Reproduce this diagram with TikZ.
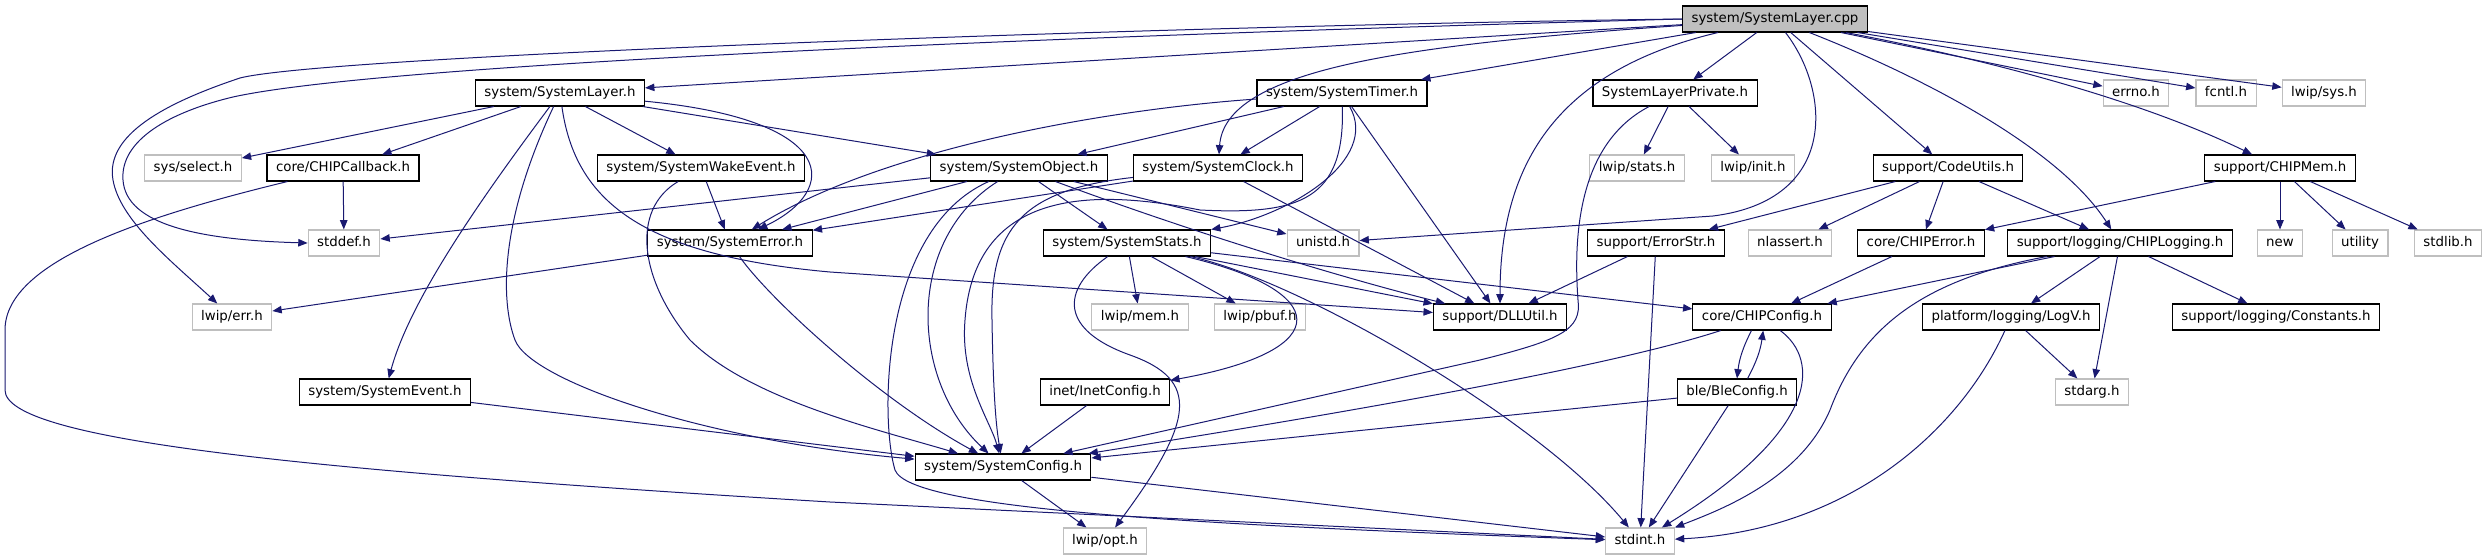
\documentclass[tikz,border=0pt]{standalone}
\usepackage{fontspec}
\setmainfont{DejaVu Sans}
\usetikzlibrary{arrows.meta}
\definecolor{edgeblue}{HTML}{191970}
\definecolor{extgray}{HTML}{BFBFBF}
\begin{document}
\begin{tikzpicture}[x=0.75pt,y=-0.75pt,>={Triangle[length=7pt,width=5.6pt]},
  hdr/.style={draw=black,fill=white,line width=0.8pt,font=\fontsize{10pt}{12pt}\selectfont,
    inner xsep=6.75pt,inner ysep=0pt,minimum height=19.5pt,text height=7.5pt,text depth=2.2pt},
  ext/.style={hdr,draw=extgray},
  dep/.style={->,draw=edgeblue,line width=0.75pt}]
\useasboundingbox (0,0) rectangle (2489,560);

% rank 1 and 2
\node[hdr,fill=extgray] (cpp) at (1775,19) {system/SystemLayer.cpp};
\node[hdr] (layer) at (560,93) {system/SystemLayer.h};
\node[hdr] (timer) at (1342,93) {system/SystemTimer.h};
\node[hdr] (priv) at (1675,93) {SystemLayerPrivate.h};
\node[ext] (errno) at (2136,93) {errno.h};
\node[ext] (fcntl) at (2226,93) {fcntl.h};
\node[ext] (lwipsys) at (2324,93) {lwip/sys.h};

% rank 3
\node[ext] (select) at (193,168) {sys/select.h};
\node[hdr] (callback) at (343,168) {core/CHIPCallback.h};
\node[hdr] (wake) at (701,168) {system/SystemWakeEvent.h};
\node[hdr] (object) at (1019,168) {system/SystemObject.h};
\node[hdr] (clock) at (1218,168) {system/SystemClock.h};
\node[ext] (lwipstats) at (1637,168) {lwip/stats.h};
\node[ext] (lwipinit) at (1753,168) {lwip/init.h};
\node[hdr] (codeutils) at (1948,168) {support/CodeUtils.h};
\node[hdr] (chipmem) at (2280,168) {support/CHIPMem.h};

% rank 4
\node[ext] (stddef) at (344,243) {stddef.h};
\node[hdr] (error) at (730,243) {system/SystemError.h};
\node[hdr] (stats) at (1127,243) {system/SystemStats.h};
\node[ext] (unistd) at (1323,243) {unistd.h};
\node[hdr] (errorstr) at (1656,243) {support/ErrorStr.h};
\node[ext] (nlassert) at (1790,243) {nlassert.h};
\node[hdr] (chiperror) at (1921,243) {core/CHIPError.h};
\node[hdr] (logging) at (2120,243) {support/logging/CHIPLogging.h};
\node[ext] (new) at (2280,243) {new};
\node[ext] (utility) at (2360,243) {utility};
\node[ext] (stdlib) at (2448,243) {stdlib.h};

% rank 5
\node[ext] (lwiperr) at (232,317) {lwip/err.h};
\node[ext] (lwipmem) at (1140,317) {lwip/mem.h};
\node[ext] (lwippbuf) at (1260,317) {lwip/pbuf.h};
\node[hdr] (dllutil) at (1500,317) {support/DLLUtil.h};
\node[hdr] (chipconfig) at (1762,317) {core/CHIPConfig.h};
\node[hdr] (logv) at (2011,317) {platform/logging/LogV.h};
\node[hdr] (constants) at (2276,317) {support/logging/Constants.h};

% rank 6 to 8
\node[hdr] (event) at (385,392) {system/SystemEvent.h};
\node[hdr] (inetconfig) at (1105,392) {inet/InetConfig.h};
\node[hdr] (bleconfig) at (1737,392) {ble/BleConfig.h};
\node[ext] (stdarg) at (2092,392) {stdarg.h};
\node[hdr] (config) at (1003,467) {system/SystemConfig.h};
\node[ext] (lwipopt) at (1105,541) {lwip/opt.h};
\node[ext] (stdint) at (1640,541) {stdint.h};

% includes of the cpp file
\draw[dep] (cpp.west) .. controls (1200,25) and (330,55) .. (240,78)
  .. controls (165,103) and (105,135) .. (113,180) .. controls (120,220) and (170,260) .. (lwiperr);
\draw[dep] (cpp.west) .. controls (1200,32) and (400,60) .. (233,97)
  .. controls (170,112) and (120,140) .. (123,180) .. controls (126,225) and (200,240) .. (stddef.west);
\draw[dep] (cpp) -- (layer);
\draw[dep] (cpp) .. controls (1400,45) and (1225,70) .. (clock);
\draw[dep] (cpp) -- (timer);
\draw[dep] (cpp) .. controls (1560,70) and (1500,160) .. (dllutil);
\draw[dep] (cpp) -- (priv);
\draw[dep] (cpp) -- (errno);
\draw[dep] (cpp) -- (fcntl);
\draw[dep] (cpp) -- (lwipsys);
\draw[dep] (cpp) -- (codeutils);
\draw[dep] (cpp) .. controls (1930,80) and (2060,150) .. (logging);
\draw[dep] (cpp) .. controls (1990,60) and (2140,100) .. (chipmem);
\draw[dep] (cpp) .. controls (1830,90) and (1840,200) .. (1713,216) -- (unistd);

% system/SystemLayer.h
\draw[dep] (layer) -- (select);
\draw[dep] (layer) -- (callback);
\draw[dep] (layer) -- (wake);
\draw[dep] (layer) -- (object);
\draw[dep] (layer) .. controls (840,120) and (840,190) .. (error);
\draw[dep] (layer) .. controls (480,200) and (410,300) .. (event);
\draw[dep] (layer) .. controls (500,220) and (500,300) .. (515,340)
  .. controls (530,380) and (700,440) .. (config);
\draw[dep] (layer) .. controls (575,200) and (640,255) .. (830,272) -- (dllutil);

% rank 3 headers
\draw[dep] (callback) -- (stddef);
\draw[dep] (callback) .. controls (150,215) and (5,260) .. (5,330) -- (5,390)
  .. controls (5,440) and (300,470) .. (830,502) -- (stdint);
\draw[dep] (wake) -- (error);
\draw[dep] (wake) .. controls (630,210) and (640,280) .. (690,340)
  .. controls (750,400) and (880,430) .. (config);
\draw[dep] (object) -- (stddef);
\draw[dep] (object) -- (error);
\draw[dep] (object) -- (stats);
\draw[dep] (object) -- (unistd);
\draw[dep] (object) .. controls (1200,235) and (1350,280) .. (dllutil);
\draw[dep] (object) .. controls (905,240) and (910,380) .. (config);
\draw[dep] (object) .. controls (880,230) and (880,420) .. (895,470)
  .. controls (910,510) and (1200,525) .. (stdint);
\draw[dep] (clock) -- (error);
\draw[dep] (clock) -- (dllutil);
\draw[dep] (clock) .. controls (1020,190) and (990,230) .. (992,320)
  .. controls (993,380) and (995,420) .. (config);
\draw[dep] (timer) -- (object);
\draw[dep] (timer) -- (clock);
\draw[dep] (timer) .. controls (1100,110) and (880,150) .. (error);
\draw[dep] (timer) .. controls (1380,160) and (1290,215) .. (stats.north east);
\draw[dep] (timer) .. controls (1345,200) and (1300,215) .. (1200,210)
  .. controls (1100,190) and (975,185) .. (965,320) .. controls (960,380) and (990,420) .. (config);
\draw[dep] (timer) -- (dllutil);
\draw[dep] (priv) -- (lwipstats);
\draw[dep] (priv) -- (lwipinit);
\draw[dep] (priv) .. controls (1585,140) and (1572,220) .. (1578,300)
  .. controls (1582,330) and (1560,340) .. (1480,360) -- (config);
\draw[dep] (codeutils) -- (errorstr);
\draw[dep] (codeutils) -- (nlassert);
\draw[dep] (codeutils) -- (chiperror);
\draw[dep] (codeutils) -- (logging);
\draw[dep] (chipmem) -- (chiperror);
\draw[dep] (chipmem) -- (new);
\draw[dep] (chipmem) -- (utility);
\draw[dep] (chipmem) -- (stdlib);

% rank 4 headers
\draw[dep] (error) -- (lwiperr);
\draw[dep] (error) .. controls (770,300) and (880,400) .. (config);
\draw[dep] (stats) -- (lwipmem);
\draw[dep] (stats) -- (lwippbuf);
\draw[dep] (stats) -- (dllutil);
\draw[dep] (stats) -- (chipconfig);
\draw[dep] (stats) .. controls (1330,290) and (1340,350) .. (inetconfig);
\draw[dep] (stats) .. controls (1060,290) and (1060,330) .. (1130,355)
  .. controls (1200,380) and (1195,420) .. (lwipopt);
\draw[dep] (stats) .. controls (1300,280) and (1540,420) .. (stdint);
\draw[dep] (errorstr) -- (dllutil);
\draw[dep] (errorstr) -- (stdint);
\draw[dep] (chiperror) -- (chipconfig);
\draw[dep] (logging) -- (chipconfig);
\draw[dep] (logging) .. controls (1920,280) and (1860,330) .. (1830,410)
  .. controls (1800,480) and (1720,510) .. (stdint);
\draw[dep] (logging) -- (logv);
\draw[dep] (logging) -- (stdarg);
\draw[dep] (logging) -- (constants);

% rank 5 and below
\draw[dep] (chipconfig.232) to[bend right=10] (bleconfig.90);
\draw[dep] (bleconfig.52) to[bend right=10] (chipconfig.275);
\draw[dep] (chipconfig) .. controls (1820,360) and (1820,430) .. (stdint);
\draw[dep] (chipconfig) .. controls (1600,370) and (1300,420) .. (config);
\draw[dep] (bleconfig) -- (config);
\draw[dep] (bleconfig) -- (stdint);
\draw[dep] (logv) -- (stdarg);
\draw[dep] (logv) .. controls (1960,430) and (1850,530) .. (stdint);
\draw[dep] (event) -- (config);
\draw[dep] (inetconfig) -- (config);
\draw[dep] (config) -- (lwipopt);
\draw[dep] (config) -- (stdint);
\end{tikzpicture}
\end{document}
